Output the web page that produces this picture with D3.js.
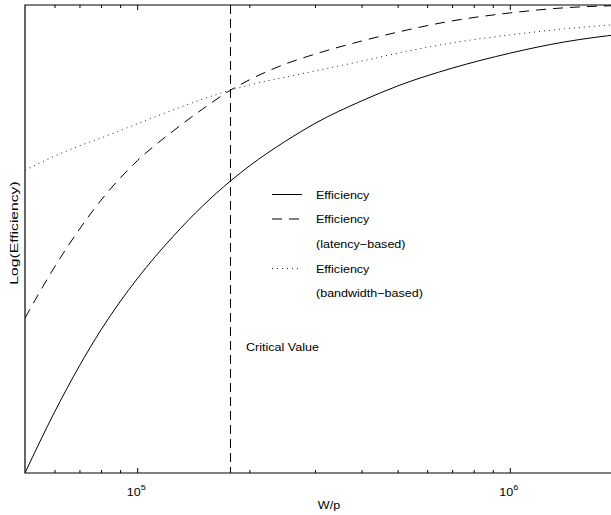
<!DOCTYPE html>
<html>
<head>
<meta charset="utf-8">
<script src="https://cdn.jsdelivr.net/npm/d3@7"></script>
<style>
  body { margin: 0; background: #fff; }
  svg { display: block; }
  text { font-family: "Liberation Sans", Arial, sans-serif; fill: #000; }
  .tick line { stroke: #000; }
</style>
</head>
<body>
<div id="chart"></div>
<script>
// W/p sample points (log x axis)
let wValues = [5e4, 6e4, 7e4, 8e4, 1e5, 1.25e5, 1.5e5, 1.78e5, 2e5, 2.5e5, 3e5, 4e5, 5e5, 7e5, 1e6, 1.4e6, 2e6];

// log(efficiency) (arbitrary units, 0 = top of the box)
let effTotal = [-1.000, -0.870, -0.771, -0.694, -0.585, -0.494, -0.429, -0.376, -0.344, -0.291, -0.253, -0.205, -0.173, -0.135, -0.103, -0.079, -0.062];
let effLatency = [-0.669, -0.560, -0.479, -0.417, -0.333, -0.269, -0.222, -0.182, -0.160, -0.126, -0.105, -0.077, -0.058, -0.034, -0.017, -0.006, -0.001];
let effBandwidth = [-0.353, -0.323, -0.301, -0.284, -0.254, -0.224, -0.201, -0.182, -0.171, -0.154, -0.141, -0.120, -0.103, -0.081, -0.064, -0.051, -0.041];

let criticalValue = 1.78e5;
let majorTicks = [1e5, 1e6];
let minorTicks = [6e4, 7e4, 8e4, 9e4, 2e5, 3e5, 4e5, 5e5, 6e5, 7e5, 8e5, 9e5, 2e6];

let legendNames = [["Efficiency"], ["Efficiency", "(latency\u2212based)"], ["Efficiency", "(bandwidth\u2212based)"]];

// chart area
let width = 611;
let height = 515;
let plotLeft = 25, plotRight = 622, plotTop = 5, plotBottom = 473;
let fontSize = 11.2;
let stretch = 1.12;  // the original text is a bit wider than Arial

let svg = d3.select("#chart")
  .append("svg")
  .attr("width", width)
  .attr("height", height);

let xScale = d3.scaleLog().domain([5e4, 2e6]).range([plotLeft, plotRight]);
let yScale = d3.scaleLinear().domain([-1, 0]).range([plotBottom, plotTop]);

// helper for horizontally stretched text
function addText(x, y, str, anchor) {
  return svg.append("text")
    .attr("transform", "translate(" + x + "," + y + ")scale(" + stretch + ",1)")
    .attr("text-anchor", anchor || "start")
    .attr("font-size", fontSize)
    .text(str);
}

svg.append("clipPath").attr("id", "plotClip")
  .append("rect")
  .attr("x", plotLeft).attr("y", plotTop)
  .attr("width", plotRight - plotLeft).attr("height", plotBottom - plotTop);

// axes: ticks point inward, mirrored on top
let xAxisMajor = d3.axisBottom(xScale).tickValues(majorTicks).tickSize(-5).tickSizeOuter(0).tickFormat("");
let xAxisMinor = d3.axisBottom(xScale).tickValues(minorTicks).tickSize(-3).tickSizeOuter(0).tickFormat("");
let topMajor = d3.axisTop(xScale).tickValues(majorTicks).tickSize(-5).tickSizeOuter(0).tickFormat("");
let topMinor = d3.axisTop(xScale).tickValues(minorTicks).tickSize(-3).tickSizeOuter(0).tickFormat("");

let axes = [[xAxisMajor, plotBottom], [xAxisMinor, plotBottom], [topMajor, plotTop], [topMinor, plotTop]];
axes.forEach(function(a) {
  let g = svg.append("g")
    .attr("transform", "translate(0," + a[1] + ")")
    .call(a[0]);
  g.select(".domain").remove();
});

// tick labels as 10 with superscript exponent
majorTicks.forEach(function(d) {
  let t = addText(xScale(d) - 1, plotBottom + 23, "10", "middle");
  t.append("tspan")
    .attr("font-size", 8)
    .attr("dy", -6)
    .text(Math.round(Math.log10(d)));
});

// box
svg.append("path")
  .attr("d", "M" + plotRight + "," + plotTop + "H" + plotLeft + "V" + plotBottom + "H" + plotRight)
  .attr("fill", "none")
  .attr("stroke", "#000")
  .attr("stroke-width", 1.2);

// axis titles
addText(329, plotBottom + 36, "W/p", "middle");

svg.append("text")
  .attr("transform", "translate(18," + 233 + ")rotate(-90)scale(1.4,1)")
  .attr("text-anchor", "middle")
  .attr("font-size", fontSize)
  .text("Log(Efficiency)");

// curves
let styles = [
  { values: effTotal, dash: null, color: "#000" },
  { values: effLatency, dash: "10,7", color: "#000" },
  { values: effBandwidth, dash: "1,4", color: "#222" }
];

let line = d3.line()
  .x(function(d) { return xScale(d[0]); })
  .y(function(d) { return yScale(d[1]); })
  .curve(d3.curveMonotoneX);

let plot = svg.append("g").attr("clip-path", "url(#plotClip)");

styles.forEach(function(s) {
  plot.append("path")
    .datum(d3.zip(wValues, s.values))
    .attr("d", line)
    .attr("fill", "none")
    .attr("stroke", s.color)
    .attr("stroke-width", 1)
    .attr("stroke-dasharray", s.dash);
});

// critical value line
plot.append("line")
  .attr("x1", xScale(criticalValue)).attr("x2", xScale(criticalValue))
  .attr("y1", plotTop).attr("y2", plotBottom)
  .attr("stroke", "#000")
  .attr("stroke-width", 1)
  .attr("stroke-dasharray", "9,5");

addText(246, 351, "Critical Value");

// legend
let legendY = [194.5, 219, 268.5];
legendNames.forEach(function(names, i) {
  svg.append("line")
    .attr("x1", 272).attr("x2", i == 1 ? 299 : 302)
    .attr("y1", legendY[i]).attr("y2", legendY[i])
    .attr("stroke", styles[i].color)
    .attr("stroke-width", 1)
    .attr("stroke-dasharray", styles[i].dash);
  names.forEach(function(n, j) {
    addText(316, legendY[i] + 4.2 + j * 24.5, n);
  });
});
</script>
</body>
</html>
